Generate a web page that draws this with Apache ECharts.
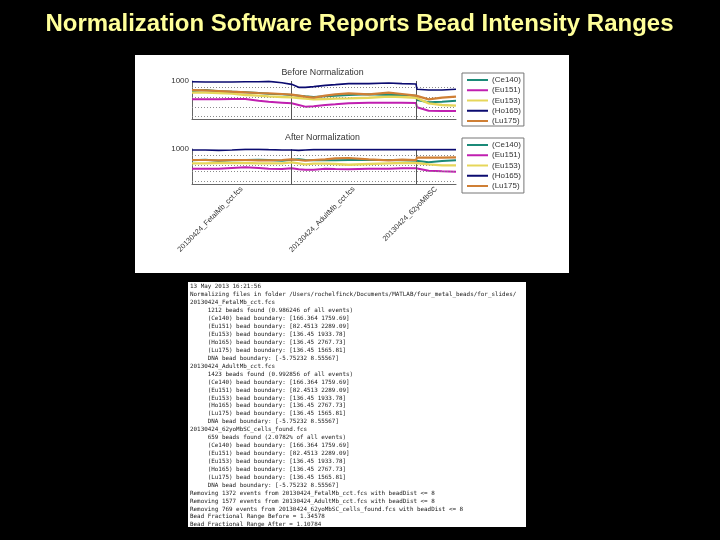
<!DOCTYPE html>
<html><head><meta charset="utf-8">
<style>html,body{margin:0;padding:0;background:#000}#c{width:720px;height:540px}</style>
<script src="https://cdn.jsdelivr.net/npm/echarts@6/dist/echarts.min.js"></script>
</head><body><div id="c"></div>
<script>
const seriesNames = ['(Ce140)','(Eu151)','(Eu153)','(Ho165)','(Lu175)'];
const seriesColors = ['#1b8a78','#c01fb0','#e6d65a','#0b0b70','#cf7f35'];
const seriesWidths = [2,2,2.4,1.6,2.2];
const beadIndex = [170,210,250,290,330,370,400,440,469,490,510,535,570,600,640,700,760,800,842,845,880,920,962];
const dividers = [469,842];
const fileTicks = [319,655,902];
const fileLabels = ['20130424_FetalMb_cct.fcs','20130424_AdultMb_cct.fcs','20130424_62yoMbSC'];
const beforeCe = [737,763,728,719,702,684,667,649,632,614,596,579,596,614,632,649,632,632,614,500,439,456,482];
const beforeEu151 = [517,517,517,526,526,482,456,430,412,368,325,333,368,386,412,430,430,430,421,307,219,211,211];
const beforeEu153 = [693,693,684,667,632,614,596,579,570,553,535,517,526,535,544,561,588,579,561,517,412,368,351];
const beforeHo = [982,974,974,974,982,982,991,956,912,833,833,851,886,904,930,930,947,930,921,781,763,763,781];
const beforeLu = [763,754,737,719,702,684,675,658,640,614,588,561,614,649,675,649,693,658,614,588,517,561,588];
const afterCe = [676,695,666,676,686,695,686,666,695,705,686,676,686,676,686,686,686,676,666,657,619,657,676];
const afterEu151 = [438,438,438,457,476,457,438,428,448,419,409,409,438,428,419,438,438,448,448,428,381,362,352];
const afterEu153 = [590,590,600,600,600,590,590,590,619,590,562,581,581,571,552,571,590,600,600,610,562,533,533];
const afterHo = [971,971,962,971,990,990,981,971,971,962,971,981,981,981,981,981,981,981,981,981,981,981,981];
const afterLu = [686,686,676,686,686,676,676,686,705,686,666,686,705,733,743,705,676,695,686,752,752,752,762];
const beforeGrid = [825,570,307,61];
const afterGrid = [828,543,352,67];
const logLines = [
'13 May 2013 16:21:56',
'Normalizing files in folder /Users/rochelfinck/Documents/MATLAB/four_metal_beads/for_slides/',
'20130424_FetalMb_cct.fcs',
'     1212 beads found (0.986246 of all events)',
'     (Ce140) bead boundary: [166.364 1759.69]',
'     (Eu151) bead boundary: [82.4513 2289.09]',
'     (Eu153) bead boundary: [136.45 1933.78]',
'     (Ho165) bead boundary: [136.45 2767.73]',
'     (Lu175) bead boundary: [136.45 1565.81]',
'     DNA bead boundary: [-5.75232 8.55567]',
'20130424_AdultMb_cct.fcs',
'     1423 beads found (0.992856 of all events)',
'     (Ce140) bead boundary: [166.364 1759.69]',
'     (Eu151) bead boundary: [82.4513 2289.09]',
'     (Eu153) bead boundary: [136.45 1933.78]',
'     (Ho165) bead boundary: [136.45 2767.73]',
'     (Lu175) bead boundary: [136.45 1565.81]',
'     DNA bead boundary: [-5.75232 8.55567]',
'20130424_62yoMbSC_cells_found.fcs',
'     659 beads found (2.0782% of all events)',
'     (Ce140) bead boundary: [166.364 1759.69]',
'     (Eu151) bead boundary: [82.4513 2289.09]',
'     (Eu153) bead boundary: [136.45 1933.78]',
'     (Ho165) bead boundary: [136.45 2767.73]',
'     (Lu175) bead boundary: [136.45 1565.81]',
'     DNA bead boundary: [-5.75232 8.55567]',
'Removing 1372 events from 20130424_FetalMb_cct.fcs with beadDist <= 8',
'Removing 1577 events from 20130424_AdultMb_cct.fcs with beadDist <= 8',
'Removing 769 events from 20130424_62yoMbSC_cells_found.fcs with beadDist <= 8',
'Bead Fractional Range Before = 1.34578',
'Bead Fractional Range After = 1.10784'
];
const F='"Liberation Sans",Arial,sans-serif';
const before=[beforeCe,beforeEu151,beforeEu153,beforeHo,beforeLu];
const after=[afterCe,afterEu151,afterEu153,afterHo,afterLu];
const refLines=(grid)=>({silent:true,symbol:'none',label:{show:false},animation:false,
  data:[...grid.map(v=>({yAxis:v,lineStyle:{color:'#8a8a8a',type:[1,2],width:1}})),
        ...dividers.map(v=>({xAxis:v,lineStyle:{color:'#555',type:'solid',width:1}}))]});
const mk=(vals,idx,grid)=>vals.map((arr,i)=>({
  type:'line',name:seriesNames[i],xAxisIndex:idx,yAxisIndex:idx,showSymbol:false,symbol:'none',
  smooth:false,animation:false,z:3+i,itemStyle:{color:seriesColors[i]},
  lineStyle:{color:seriesColors[i],width:seriesWidths[i]},
  data:arr.map((v,k)=>[beadIndex[k],v]),
  markLine:i===0?refLines(grid):undefined
}));
const xAx=(idx,labels)=>({type:'value',gridIndex:idx,min:170,max:962,splitLine:{show:false},
  axisLine:{show:true,onZero:false,lineStyle:{color:'#666',width:1}},axisTick:{show:false},
  axisLabel:labels?{show:true,customValues:fileTicks,rotate:45,margin:4,fontSize:7.4,color:'#333',fontFamily:F,
    formatter:v=>fileLabels[fileTicks.indexOf(v)]||''}:{show:false}});
const yAx=(idx,pad)=>({type:'value',gridIndex:idx,min:0,max:1000,splitLine:{show:false},
  axisLine:{show:true,lineStyle:{color:'#666',width:1}},axisTick:{show:false},
  axisLabel:{show:true,customValues:[1000],margin:3,fontSize:8,color:'#333',fontFamily:F,padding:[0,0,pad,0],formatter:v=>String(v)}});
const leg=(top,padB)=>({data:seriesNames,orient:'vertical',left:462,top:top,itemWidth:21,itemHeight:2,itemGap:2.25,
  icon:'rect',padding:[3,3,padB,5],borderColor:'#777',borderWidth:1,backgroundColor:'#fff',selectedMode:false,
  textStyle:{fontSize:8,color:'#333',fontFamily:F,padding:[0,0,0,-1]}});
const chart=echarts.init(document.getElementById('c'),null,{renderer:'canvas'});
chart.setOption({
  backgroundColor:'#000',animation:false,
  title:[
    {text:'Normalization Software Reports Bead Intensity Ranges',left:354.5,top:7.5,textAlign:'center',
     textStyle:{color:'#ffff99',fontSize:24,fontWeight:'bold',fontFamily:F}},
    {text:'Before Normalization',left:317.5,top:63,textAlign:'center',textStyle:{color:'#333',fontSize:8.8,fontWeight:'normal',fontFamily:F}},
    {text:'After Normalization',left:317.5,top:128,textAlign:'center',textStyle:{color:'#333',fontSize:8.8,fontWeight:'normal',fontFamily:F}}
  ],
  graphic:[
    {type:'rect',z:-10,shape:{x:135,y:55,width:434,height:218},style:{fill:'#fff'},silent:true},
    {type:'rect',z:-10,shape:{x:188,y:282,width:338,height:245},style:{fill:'#fff'},silent:true},
    {type:'text',z:5,left:190,top:283,silent:true,style:{text:logLines.join('\n'),fill:'#1a1a1a',
      font:'5.9px "DejaVu Sans Mono",monospace',lineHeight:7.93}}
  ],
  grid:[{left:192,top:81,width:264,height:38},{left:192,top:149,width:264,height:35}],
  xAxis:[xAx(0,false),xAx(1,true)],
  yAxis:[yAx(0,2),yAx(1,5)],
  legend:[leg(73,1),leg(138,3)],
  series:[...mk(before,0,beforeGrid),...mk(after,1,afterGrid)]
});
</script></body></html>
